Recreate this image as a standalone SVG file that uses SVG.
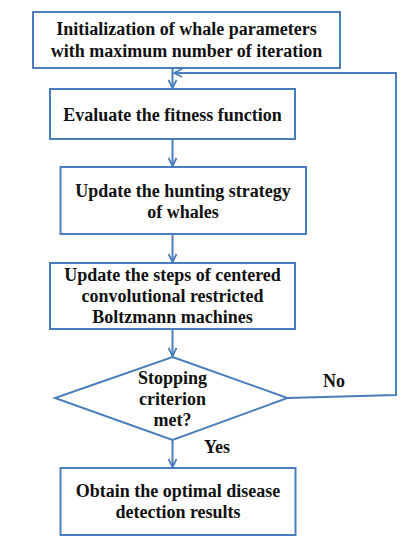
<svg xmlns="http://www.w3.org/2000/svg" width="416" height="550" viewBox="0 0 416 550">
<style>
.n{fill:#fff;stroke:#4a7ebb;stroke-width:2}
.t{font-family:"Liberation Serif","Times New Roman",serif;font-weight:bold;font-size:18px;fill:#111;text-anchor:middle}
.c{fill:none;stroke:#4a7ebb;stroke-width:2}
</style>
<defs>
<marker id="a" viewBox="0 0 10 10" refX="9" refY="5" markerWidth="10" markerHeight="10" markerUnits="userSpaceOnUse" orient="auto">
<path d="M1,1 L9,5 L1,9" fill="none" stroke="#4a7ebb" stroke-width="1.8"/>
</marker>
</defs>
<rect width="416" height="550" fill="#fff"/>
<g id="connectors">
<line class="c" x1="172.5" y1="68" x2="172.5" y2="88" marker-end="url(#a)"/>
<line class="c" x1="172.5" y1="139" x2="172.5" y2="166" marker-end="url(#a)"/>
<line class="c" x1="172.5" y1="234" x2="172.5" y2="262" marker-end="url(#a)"/>
<line class="c" x1="172.5" y1="329" x2="172.5" y2="356" marker-end="url(#a)"/>
<line class="c" x1="172.5" y1="440" x2="172.5" y2="467" marker-end="url(#a)"/>
<polyline class="c" points="287,398 396,395 396,73 174,73" marker-end="url(#a)"/>
<text class="t" x="334" y="387">No</text>
<text class="t" x="217" y="453">Yes</text>
</g>
<g id="n1">
<rect class="n" x="33" y="12" width="307" height="56"/>
<text class="t" x="186.5" y="35">Initialization of whale parameters</text>
<text class="t" x="186.5" y="57">with maximum number of iteration</text>
</g>
<g id="n2">
<rect class="n" x="50" y="89" width="245" height="50"/>
<text class="t" x="172.5" y="121">Evaluate the fitness function</text>
</g>
<g id="n3">
<rect class="n" x="60.5" y="167" width="245.5" height="67"/>
<text class="t" x="183" y="197">Update the hunting strategy</text>
<text class="t" x="183" y="218">of whales</text>
</g>
<g id="n4">
<rect class="n" x="50" y="263" width="245" height="66"/>
<text class="t" x="172.5" y="281">Update the steps of centered</text>
<text class="t" x="172.5" y="302">convolutional restricted</text>
<text class="t" x="172.5" y="323">Boltzmann machines</text>
</g>
<g id="n5">
<polygon class="n" points="172.5,357 287.5,398 172.5,440 55,398"/>
<text class="t" x="172.5" y="384">Stopping</text>
<text class="t" x="172.5" y="405">criterion</text>
<text class="t" x="172.5" y="426">met?</text>
</g>
<g id="n6">
<rect class="n" x="60.5" y="468" width="235" height="67"/>
<text class="t" x="178" y="497">Obtain the optimal disease</text>
<text class="t" x="178" y="518">detection results</text>
</g>
</svg>
